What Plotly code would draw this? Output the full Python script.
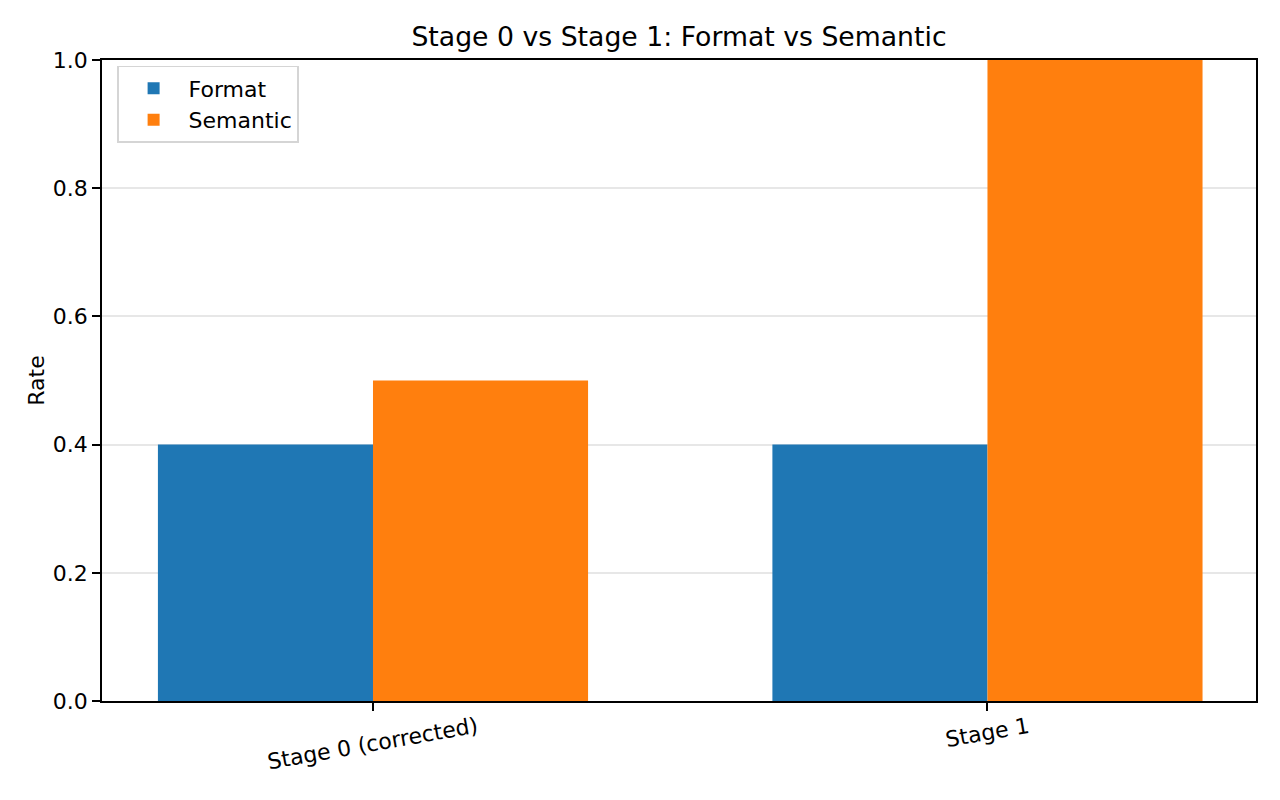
import plotly.graph_objects as go

stages = ["Stage 0 (corrected)", "Stage 1"]
format_rate = [0.4, 0.4]
semantic_rate = [0.5, 1.0]
yticks = [0.0, 0.2, 0.4, 0.6, 0.8, 1.0]

width = 0.35
xpos = list(range(len(stages)))

fig = go.Figure()
fig.add_trace(go.Bar(
    x=[x - width / 2 for x in xpos], y=format_rate, width=width,
    name="Format", marker=dict(color="#1f77b4", line=dict(width=0)),
))
fig.add_trace(go.Bar(
    x=[x + width / 2 for x in xpos], y=semantic_rate, width=width,
    name="Semantic", marker=dict(color="#ff7f0e", line=dict(width=0)),
))

# x tick labels: matplotlib rotation=10 keeps them centred on the tick
for x, label in zip(xpos, stages):
    fig.add_annotation(
        x=x, y=0, xref="x", yref="paper", text=label, showarrow=False,
        textangle=-10, xanchor="center", yanchor="top", yshift=-9,
        font=dict(size=22, color="black"),
    )

axis_common = dict(
    showline=True, linecolor="black", linewidth=1.6, mirror=True,
    ticks="outside", ticklen=8, tickwidth=1.6, tickcolor="black",
    tickfont=dict(size=22, color="black"),
    zeroline=False, layer="above traces",
)

# page body has an 8px margin, so the figure is 16px smaller than the window
fig.update_layout(
    width=1264, height=784,
    font=dict(family="DejaVu Sans", color="black"),
    title=dict(text="Stage 0 vs Stage 1: Format vs Semantic", x=0.5, xanchor="center",
               xref="paper", y=0.963, yanchor="middle", font=dict(size=26.7)),
    margin=dict(l=94, r=16, t=52, b=91),
    paper_bgcolor="white", plot_bgcolor="white",
    barmode="overlay",
    xaxis=dict(
        range=[-0.441, 1.437], tickmode="array", tickvals=xpos,
        showticklabels=False, showgrid=False, **axis_common,
    ),
    yaxis=dict(
        range=[0, 1.0], tickmode="array", tickvals=yticks,
        ticktext=[f"{v:.1f}" for v in yticks],
        showgrid=True, gridcolor="rgba(176,176,176,0.3)", gridwidth=1.8,
        title=dict(text="Rate", font=dict(size=22), standoff=2),
        **axis_common,
    ),
    legend=dict(
        x=0.013, y=0.991, xanchor="left", yanchor="top",
        bgcolor="rgba(255,255,255,0.8)", bordercolor="#d5d5d5", borderwidth=1.6,
        font=dict(size=22), itemwidth=60,
    ),
    showlegend=True,
)

fig.write_html("out.html")
